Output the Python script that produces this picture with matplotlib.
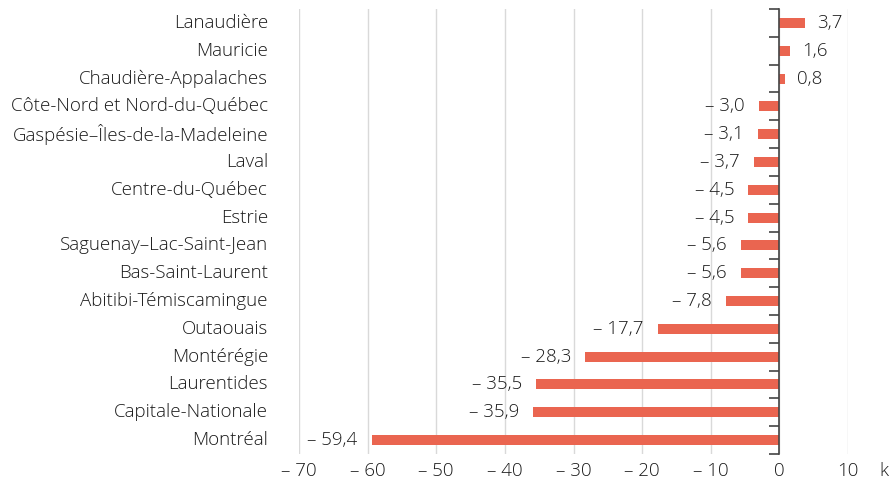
import matplotlib
matplotlib.use("Agg")
import matplotlib.pyplot as plt
import matplotlib.transforms as mtransforms
from matplotlib.ticker import FixedLocator

regions = ["Lanaudière", "Mauricie", "Chaudière-Appalaches", "Côte-Nord et Nord-du-Québec",
           "Gaspésie–Îles-de-la-Madeleine", "Laval", "Centre-du-Québec", "Estrie",
           "Saguenay–Lac-Saint-Jean", "Bas-Saint-Laurent", "Abitibi-Témiscamingue",
           "Outaouais", "Montérégie", "Laurentides", "Capitale-Nationale", "Montréal"]
values = [3.7, 1.6, 0.8, -3.0, -3.1, -3.7, -4.5, -4.5, -5.6, -5.6, -7.8,
          -17.7, -28.3, -35.5, -35.9, -59.4]
xticks = [-70, -60, -50, -40, -30, -20, -10, 0, 10]
unit = "k"

plt.rcParams['font.family'] = ['Open Sans', 'DejaVu Sans']
plt.rcParams['font.weight'] = 'light'
txt = '#1a1a1a'
fs = 13.5

def fmt(v):
    s = f"{abs(v):.1f}".replace(".", ",")
    return s if v >= 0 else "\u2013 " + s

fig = plt.figure(figsize=(8.89, 4.83), dpi=100)
ax = fig.add_axes([299/889, 1-454/483, (848-299)/889, (454-9)/483])

ypos = list(range(len(regions)))
ax.barh(ypos, values, height=0.36, color='#EA6550', zorder=3)
ax.set_xlim(-70, 10)
ax.set_ylim(len(regions)-0.5, -0.5)

for s in ['top', 'right', 'bottom']:
    ax.spines[s].set_visible(False)
ax.spines['left'].set_position(('data', 0))
ax.spines['left'].set_color('#444444')
ax.spines['left'].set_linewidth(1.2)
ax.spines['left'].set_zorder(4)

ax.set_yticks([])
ax.yaxis.set_minor_locator(FixedLocator([i - 0.5 for i in range(len(regions)+1)]))
ax.tick_params(axis='y', which='minor', length=7, width=1.2, color='#444444', direction='out')

ax.set_xticks(xticks)
ax.set_xticklabels([("\u2013 " + str(abs(t))) if t < 0 else str(t) for t in xticks])
ax.tick_params(axis='x', length=0, pad=6, labelsize=fs, labelcolor=txt)
ax.grid(axis='x', color='#D9D9D9', linewidth=1, zorder=0)

trans = mtransforms.blended_transform_factory(ax.transAxes, ax.transData)
for i, name in enumerate(regions):
    ax.text(-31/549, i, name, transform=trans, ha='right', va='center', fontsize=fs, color=txt)

offs = mtransforms.offset_copy
for i, v in enumerate(values):
    if v >= 0:
        t = offs(ax.transData, fig=fig, x=12, y=0, units='dots')
        ax.text(v, i, fmt(v), transform=t, ha='left', va='center', fontsize=fs, color=txt)
    else:
        t = offs(ax.transData, fig=fig, x=-14, y=0, units='dots')
        ax.text(v, i, fmt(v), transform=t, ha='right', va='center', fontsize=fs, color=txt)

ax.text(15.2, -17/445, unit, transform=mtransforms.blended_transform_factory(ax.transData, ax.transAxes),
        ha='center', va='center', fontsize=fs, color=txt, clip_on=False)

fig.savefig("out.png", dpi=100)
